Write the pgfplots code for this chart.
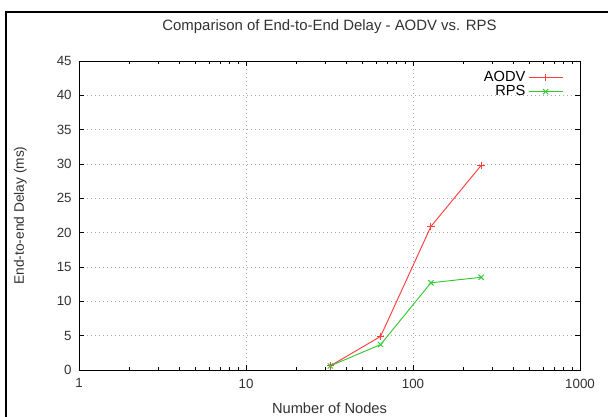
\documentclass[border=0pt]{standalone}
\usepackage{fontspec}
\setmainfont{Liberation Sans}
\usepackage{pgfplots}
\pgfplotsset{compat=1.18}
\definecolor{txt}{RGB}{50,50,50}
\definecolor{aodv}{RGB}{255,60,60}
\definecolor{rps}{RGB}{50,200,50}
\definecolor{gridc}{RGB}{170,170,170}
\tikzset{
  aodvstyle/.style={color=aodv, line width=0.7pt, mark=+, mark size=2.8pt},
  rpsstyle/.style={color=rps, line width=0.7pt, mark=x, mark size=2.8pt},
}
\begin{document}
\begin{tikzpicture}[x=1pt,y=1pt]
\useasboundingbox (0,0) rectangle (456,312.75);
\draw[line width=1.8pt] (4.5,-2) -- (4.5,303.75) -- (460,303.75);
\begin{semilogxaxis}[
    at={(59.25pt,35.25pt)}, anchor=south west,
    scale only axis,
    width=375.75pt, height=231.75pt,
    xmin=1, xmax=1000, ymin=0, ymax=45,
    xtick={1,10,100,1000}, xticklabels={1,10,100,1000},
    ytick={0,5,...,45},
    minor xtick={2,3,4,5,6,7,8,9,20,30,40,50,60,70,80,90,200,300,400,500,600,700,800,900},
    grid=major,
    major grid style={gridc, dash pattern=on 0.8pt off 2.2pt, line width=0.7pt},
    axis line style={black, line width=0.6pt},
    tick style={black, line width=0.6pt},
    major tick length=4pt, minor tick length=2.5pt,
    tick align=inside,
    /pgf/number format/assume math mode=true,
    font=\fontsize{11}{13}\selectfont,
    tick label style={txt, font=\fontsize{10}{11}\selectfont},
    xticklabel style={yshift=-3pt},
    yticklabel style={xshift=-2pt},
    title={Comparison of End-to-End Delay - AODV vs. RPS},
    title style={txt, font=\fontsize{11.2}{13}\selectfont, at={(0.5,1)}, anchor=center, yshift=19.5pt},
    xlabel={Number of Nodes},
    xlabel style={txt, at={(axis description cs:0.5,0)}, anchor=center, yshift=-28.5pt},
    ylabel={End-to-end Delay (ms)},
    ylabel style={txt, font=\fontsize{10.3}{12}\selectfont, at={(axis description cs:0,0.5)}, anchor=center, yshift=44pt},
    legend style={draw=none, fill=none, at={(0.975,0.985)}, anchor=north east,
        font=\fontsize{11}{12}\selectfont, row sep=-2.5pt},
    legend cell align=right,
    legend plot pos=right,
]
\addplot[aodvstyle,
    legend image code/.code={\draw[aodvstyle, mark repeat=2, mark phase=2] plot coordinates {(0cm,0cm) (0.45cm,0cm) (0.9cm,0cm)};}]
    coordinates {(32,0.6) (64,4.9) (128,20.9) (256,29.8)};
\addlegendentry{AODV}
\addplot[rpsstyle,
    legend image code/.code={\draw[rpsstyle, mark repeat=2, mark phase=2] plot coordinates {(0cm,0cm) (0.45cm,0cm) (0.9cm,0cm)};}]
    coordinates {(32,0.6) (64,3.7) (128,12.7) (256,13.5)};
\addlegendentry{RPS}
\end{semilogxaxis}
\end{tikzpicture}
\end{document}
